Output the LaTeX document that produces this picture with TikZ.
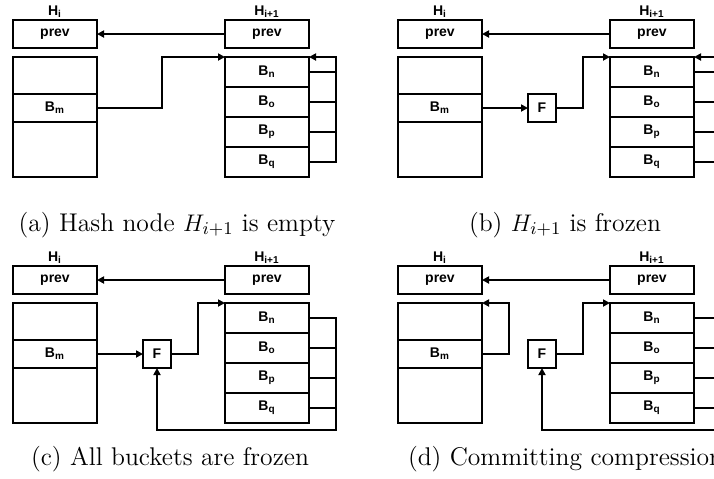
\documentclass[tikz,border=0pt]{standalone}
\usepackage{fontspec}
\newfontfamily\lblfont{Liberation Sans}
\usetikzlibrary{positioning, arrows.meta}

% the boxes that every panel shares
\newcommand{\hashnodes}{%
  \node[prevbox] (prevL) at (55,34) {prev};
  \node[hlabel] (Hi) [above=0pt of prevL] {H\textsubscript{i}};
  \node[prevbox] (prevR) at (267,34) {prev};
  \node[hlabel] (Hj) [above=0pt of prevR] {H\textsubscript{i+1}};
  \node[slot, minimum height=18.5pt] (upper) [below=4.5pt of prevL] {};
  \node[slot, minimum height=14pt] (Bm) [below=0pt of upper] {B\textsubscript{m}};
  \node[slot, minimum height=27.5pt] (lower) [below=0pt of Bm] {};
  \node[bucket] (Bn) [below=4.5pt of prevR] {B\textsubscript{n}};
  \node[bucket] (Bo) [below=0pt of Bn] {B\textsubscript{o}};
  \node[bucket] (Bp) [below=0pt of Bo] {B\textsubscript{p}};
  \node[bucket] (Bq) [below=0pt of Bp] {B\textsubscript{q}};
  \draw[arr] (prevR.west) -- (prevL.east);
}

\begin{document}
\begin{tikzpicture}[x=0.5pt, y=-0.5pt,
  lbl/.style={font=\lblfont\bfseries\fontsize{7}{8}\selectfont},
  slot/.style={draw, rectangle, lbl, line width=1.2pt, minimum width=42pt,
    inner sep=0pt, outer sep=0pt},
  prevbox/.style={slot, minimum height=14pt},
  bucket/.style={slot, minimum height=15pt},
  frz/.style={slot, minimum width=14pt, minimum height=14pt},
  hlabel/.style={lbl, inner sep=1pt},
  wire/.style={line width=1.2pt},
  arr/.style={wire, -{Triangle[length=3.5pt, width=3.5pt]}},
  capt/.style={anchor=base, font=\fontsize{12.8}{15}\selectfont}]

\clip (0,0) rectangle (714,478);

% (a)
\begin{scope}[name prefix=a-]
\hashnodes
\draw[arr] (Bm.east) -- ++(65,0) |- (Bn.north west);
\foreach \b in {Bn,Bo,Bp} \draw[wire] (\b.east) -- ++(27,0);
\draw[arr] (Bq.east) -- ++(27,0) |- (Bn.north east);
\end{scope}

% (b)
\begin{scope}[shift={(385,0)}, name prefix=b-]
\hashnodes
\node[frz] (F) at (157,108) {F};
\draw[arr] (Bm.east) -- (F.west);
\draw[arr] (F.east) -- ++(27,0) |- (Bn.north west);
\foreach \b in {Bn,Bo,Bp} \draw[wire] (\b.east) -- ++(27,0);
\draw[arr] (Bq.east) -- ++(27,0) |- (Bn.north east);
\end{scope}

% (c)
\begin{scope}[shift={(0,246)}, name prefix=c-]
\hashnodes
\node[frz] (F) at (157,108) {F};
\draw[arr] (Bm.east) -- (F.west);
\draw[arr] (F.east) -- ++(27,0) |- (Bn.north west);
\foreach \b in {Bo,Bp,Bq} \draw[wire] (\b.east) -- ++(27,0);
\draw[arr] (Bn.east) -- ++(27,0) -- ++(0,112) -| (F.south);
\end{scope}

% (d)
\begin{scope}[shift={(385,246)}, name prefix=d-]
\hashnodes
\node[frz] (F) at (157,108) {F};
\draw[arr] (Bm.east) -- ++(27,0) |- (upper.north east);
\draw[arr] (F.east) -- ++(27,0) |- (Bn.north west);
\foreach \b in {Bo,Bp,Bq} \draw[wire] (\b.east) -- ++(27,0);
\draw[arr] (Bn.east) -- ++(27,0) -- ++(0,112) -| (F.south);
\end{scope}

\node[capt] (capA) at (177,231) {(a) Hash node $H_{i+1}$ is empty};
\node[capt] (capB) at (565,231) {(b) $H_{i+1}$ is frozen};
\node[capt] (capC) at (170,465) {(c) All buckets are frozen};
\node[capt, anchor=base west] (capD) at (401,465) {(d) Committing compression};

\end{tikzpicture}
\end{document}
